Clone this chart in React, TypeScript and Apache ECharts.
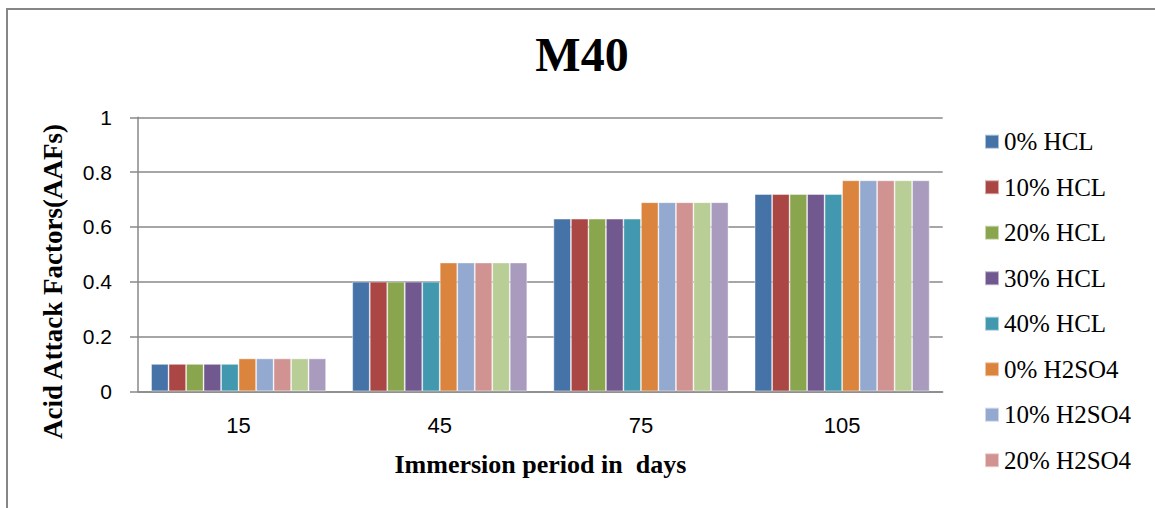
import React, { useEffect, useRef } from "react";
import * as echarts from "echarts";

const categories = ["15", "45", "75", "105"];
const seriesNames = [
  "0% HCL",
  "10% HCL",
  "20% HCL",
  "30% HCL",
  "40% HCL",
  "0% H2SO4",
  "10% H2SO4",
  "20% H2SO4",
  "30% H2SO4",
  "40% H2SO4",
];
const hclValues = [0.1, 0.4, 0.63, 0.72];
const h2so4Values = [0.12, 0.47, 0.69, 0.77];
const seriesValues = [
  hclValues,
  hclValues,
  hclValues,
  hclValues,
  hclValues,
  h2so4Values,
  h2so4Values,
  h2so4Values,
  h2so4Values,
  h2so4Values,
];
const legendNames = seriesNames.slice(0, 8);
const colors = [
  "#4572A7",
  "#AA4643",
  "#89A54E",
  "#71588F",
  "#4198AF",
  "#DB843D",
  "#93A9CF",
  "#D19392",
  "#B9CD96",
  "#A99BBD",
];
const yTicks = [0, 0.2, 0.4, 0.6, 0.8, 1];
const yAxisTitle = "Acid Attack Factors(AAFs)";
const xAxisTitle = "Immersion period in  days";
const chartTitle = "M40";

const serif = "'Liberation Serif', 'Times New Roman', serif";
const sans = "'Liberation Sans', Arial, sans-serif";

export default function App() {
  const ref = useRef<HTMLDivElement>(null);
  useEffect(() => {
    if (!ref.current) return;
    const chart = echarts.init(ref.current, null, { renderer: "svg" });
    chart.setOption({
      animation: false,
      backgroundColor: "#ffffff",
      color: colors,
      title: {
        text: chartTitle,
        left: 582,
        top: 30.5,
        padding: 0,
        textAlign: "center",
        textStyle: { fontFamily: serif, fontSize: 48, fontWeight: "bold", color: "#000" },
      },
      graphic: [
        {
          type: "rect",
          shape: { x: 7, y: 9, width: 1300, height: 700 },
          style: { fill: "none", stroke: "#868686", lineWidth: 2 },
          silent: true,
        },
        {
          type: "text",
          x: 53,
          y: 281.5,
          rotation: Math.PI / 2,
          style: {
            text: yAxisTitle,
            fontFamily: serif,
            fontSize: 27,
            fontWeight: "bold",
            fill: "#000",
            align: "center",
            verticalAlign: "middle",
          },
          silent: true,
        },
      ],
      legend: {
        data: legendNames,
        orient: "vertical",
        left: 984,
        top: 129.2,
        padding: 0,
        itemWidth: 14,
        itemHeight: 14,
        itemGap: 20.5,
        icon: "rect",
        textStyle: { fontFamily: serif, fontSize: 25, lineHeight: 25, color: "#000" },
      },
      grid: { left: 138, right: 212.3, top: 117.3, bottom: 116.7, containLabel: false },
      xAxis: {
        type: "category",
        data: categories,
        name: xAxisTitle,
        nameLocation: "middle",
        nameGap: 60,
        nameTextStyle: { fontFamily: serif, fontSize: 26, fontWeight: "bold", color: "#000" },
        axisLine: { lineStyle: { color: "#888", width: 1.5 } },
        axisTick: { show: false },
        axisLabel: { fontFamily: sans, fontSize: 22, color: "#000", margin: 23 },
      },
      yAxis: {
        type: "value",
        min: 0,
        max: 1,
        interval: 0.2,
        axisLine: { show: true, lineStyle: { color: "#888", width: 1.5 } },
        axisTick: { show: true, length: 8, lineStyle: { color: "#888", width: 1.5 } },
        axisLabel: {
          fontFamily: sans,
          fontSize: 21,
          color: "#000",
          margin: 26,
          formatter: (v: number) => {
            const t = yTicks.find((x) => Math.abs(x - v) < 1e-9);
            return t === undefined ? "" : String(t);
          },
        },
        splitLine: { lineStyle: { color: "#888", width: 1.5 } },
      },
      series: seriesNames.map((name, i) => ({
        name,
        type: "bar",
        data: seriesValues[i],
        barGap: "0%",
        barCategoryGap: "13%",
        itemStyle: { color: colors[i], borderColor: "rgba(255,255,255,0.55)", borderWidth: 0.8 },
      })),
    });
    return () => chart.dispose();
  }, []);
  return (
    <div
      ref={ref}
      style={{ position: "fixed", left: 0, top: 0, width: 1155, height: 508 }}
    />
  );
}
